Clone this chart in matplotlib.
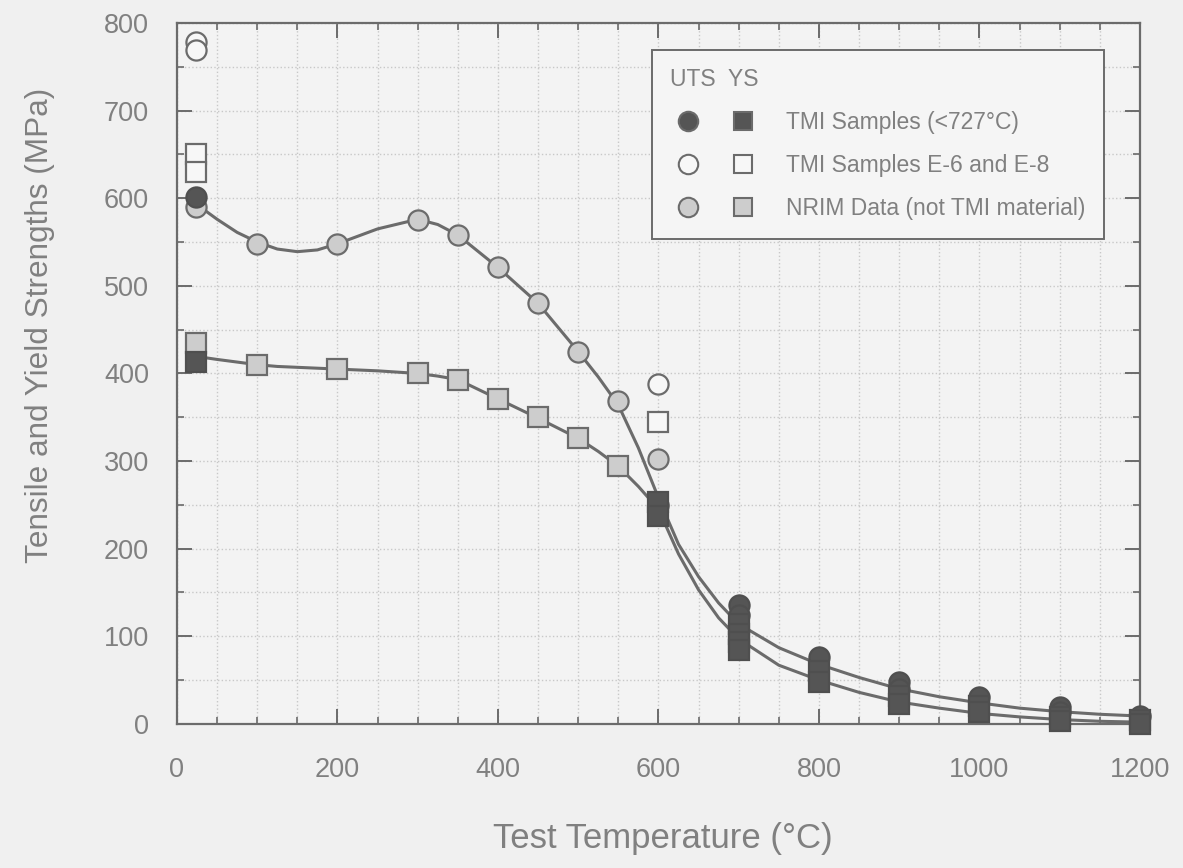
import matplotlib
matplotlib.use('Agg')
import matplotlib.pyplot as plt
from matplotlib.lines import Line2D
from matplotlib.legend_handler import HandlerTuple
from matplotlib.ticker import MultipleLocator

plt.rcParams['font.family'] = ['Liberation Sans', 'DejaVu Sans']

# fitted curves
curve_t = [20, 50, 75, 100, 125, 150, 175, 200, 250, 300, 325, 350, 400, 450, 500, 525,
           550, 575, 600, 625, 650, 675, 700, 750, 800, 850, 900, 950, 1000, 1050,
           1100, 1150, 1200]
uts_curve = [596, 576, 561, 550, 542, 539, 541, 548, 565, 576, 570, 558, 521, 480, 425, 396,
             364, 315, 258, 205, 168, 138, 114, 87, 68, 53, 40, 31, 24, 18,
             14, 11, 9]
ys_curve = [420, 416, 413, 410, 408, 407, 406, 405, 403, 400, 397, 393, 371, 349, 326, 311,
            294, 271, 245, 194, 153, 121, 97, 67, 50, 36, 25, 18, 12, 8,
            5, 3, 2]

# NRIM data
nrim_uts_t = [24, 100, 200, 300, 350, 400, 450, 500, 550, 600]
nrim_uts = [590, 548, 548, 575, 558, 521, 480, 424, 368, 302]
nrim_ys_t = [24, 100, 200, 300, 350, 400, 450, 500, 550]
nrim_ys = [435, 410, 405, 400, 393, 371, 350, 326, 294]

# TMI samples (<727 C)
tmi_uts_t = [24, 600, 700, 700, 800, 900, 900, 1000, 1100, 1100, 1200]
tmi_uts = [601, 250, 136, 124, 76, 48, 40, 31, 19, 14, 9]
tmi_ys_t = [24, 600, 600, 700, 700, 700, 700, 800, 800, 900, 900, 1000, 1000,
            1100, 1100, 1200, 1200]
tmi_ys = [413, 253, 237, 114, 103, 93, 84, 60, 48, 32, 23, 20, 14, 8, 3, 5, 0]

# TMI samples E-6 and E-8
e_uts_t = [24, 24, 600]
e_uts = [778, 769, 388]
e_ys_t = [24, 24, 600]
e_ys = [651, 630, 345]

ink = '#6b6b6b'
txt = '#808080'
dark = '#555555'
light = '#cdcdcd'
bg = '#f0f0f0'

fig = plt.figure(figsize=(11.83, 8.68), dpi=100, facecolor=bg)
ax = fig.add_axes([0.1496, 0.166, 0.814, 0.8075], facecolor='#f3f3f3')

ax.plot(curve_t, uts_curve, color=ink, lw=2.2, zorder=2)
ax.plot(curve_t, ys_curve, color=ink, lw=2.2, zorder=2)

ms = 14.5
kw = dict(ls='none', markeredgecolor=ink, markeredgewidth=1.6, ms=ms, clip_on=False, zorder=3)
ax.plot(nrim_uts_t, nrim_uts, marker='o', markerfacecolor=light, **kw)
ax.plot(nrim_ys_t, nrim_ys, marker='s', markerfacecolor=light, **kw)
ax.plot(e_uts_t, e_uts, marker='o', markerfacecolor='#f7f7f7', **kw)
ax.plot(e_ys_t, e_ys, marker='s', markerfacecolor='#f7f7f7', **kw)
kw_d = dict(kw, markeredgecolor='#4f4f4f', zorder=4)
ax.plot(tmi_uts_t, tmi_uts, marker='o', markerfacecolor=dark, **kw_d)
ax.plot(tmi_ys_t, tmi_ys, marker='s', markerfacecolor=dark, **kw_d)

ax.set_xlim(0, 1200)
ax.set_ylim(0, 800)
ax.xaxis.set_major_locator(MultipleLocator(200))
ax.xaxis.set_minor_locator(MultipleLocator(50))
ax.yaxis.set_major_locator(MultipleLocator(100))
ax.yaxis.set_minor_locator(MultipleLocator(50))
ax.grid(which='both', ls=':', color='#c8c8c8', lw=1.0, zorder=0)
ax.set_axisbelow(True)
ax.tick_params(which='both', direction='in', top=True, right=True, colors=ink,
               labelcolor=txt, labelsize=19.5)
ax.tick_params(axis='x', which='both', pad=24)
ax.tick_params(axis='y', which='both', pad=20)
ax.tick_params(which='major', length=11, width=1.4)
ax.tick_params(which='minor', length=5, width=1.2)
for s in ax.spines.values():
    s.set_color(ink)
    s.set_linewidth(1.6)

ax.set_xlabel('Test Temperature (\u00b0C)', fontsize=25, color=txt, va='top')
ax.xaxis.set_label_coords(0.505, (724 - 822) / 701)
ax.set_ylabel('Tensile and Yield Strengths (MPa)', fontsize=22.7, color=txt, va='center')
ax.yaxis.set_label_coords((40 - 177) / 963, (724 - 325) / 701)

def mk(marker, face, size):
    return Line2D([], [], ls='none', marker=marker, ms=size, markerfacecolor=face,
                  markeredgecolor=ink, markeredgewidth=1.5)

handles = [(mk('o', dark, 14), mk('s', dark, 13)),
           (mk('o', '#f7f7f7', 14), mk('s', '#f7f7f7', 13)),
           (mk('o', light, 14), mk('s', light, 13))]
labels = ['TMI Samples (<727\u00b0C)', 'TMI Samples E-6 and E-8', 'NRIM Data (not TMI material)']
fs = 16.5
leg = ax.legend(handles, labels, handler_map={tuple: HandlerTuple(ndivide=None, pad=0.87)},
                loc='upper left', bbox_to_anchor=(0.493, 0.962), fontsize=fs,
                title='UTS  YS', title_fontsize=fs, alignment='left',
                handlelength=3.93, handletextpad=1.15, labelspacing=0.88,
                borderpad=0.8, borderaxespad=0, fancybox=False, framealpha=1,
                facecolor='#f5f5f5', edgecolor=ink, labelcolor=txt)
leg.get_title().set_color(txt)
leg.get_frame().set_linewidth(1.4)

fig.savefig('out.png', dpi=100, facecolor=bg)
